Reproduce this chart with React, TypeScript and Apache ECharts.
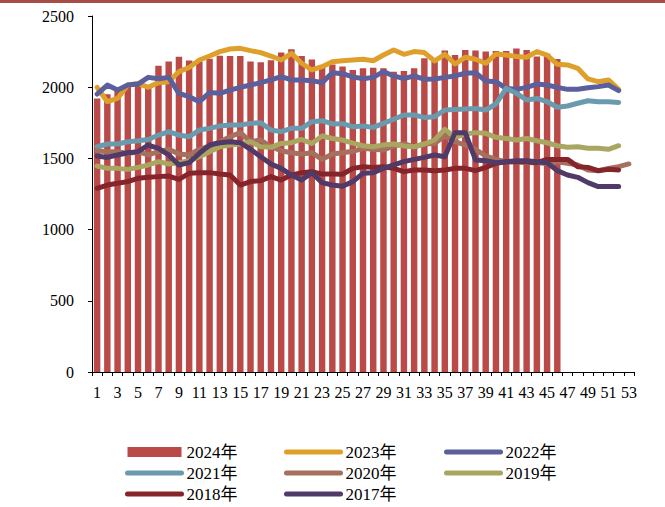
import React, { useEffect, useRef } from "react";
import * as echarts from "echarts";

const weeks: string[] = Array.from({ length: 53 }, (_, i) => String(i + 1));

const y2024 = [1920, 1950, 2000, 2010, 2027, 2010, 2151, 2181, 2214, 2188, 2180, 2200, 2220, 2219, 2219, 2181, 2176, 2190, 2243, 2266, 2219, 2195, 2156, 2160, 2145, 2121, 2133, 2137, 2133, 2109, 2114, 2133, 2203, 2190, 2257, 2226, 2262, 2257, 2250, 2254, 2254, 2271, 2262, 2215, 2235, 2198];
const y2023 = [1999, 1898, 1921, 2015, 2027, 1999, 2032, 2039, 2109, 2138, 2191, 2219, 2250, 2268, 2273, 2257, 2243, 2219, 2191, 2238, 2168, 2121, 2144, 2179, 2185, 2191, 2196, 2186, 2226, 2261, 2231, 2250, 2243, 2184, 2231, 2163, 2210, 2196, 2168, 2233, 2226, 2215, 2210, 2250, 2226, 2161, 2156, 2133, 2058, 2039, 2051, 1985];
const y2022 = [1952, 2015, 1980, 2015, 2022, 2069, 2060, 2069, 1957, 1933, 1898, 1962, 1957, 1980, 1999, 2015, 2032, 2051, 2074, 2051, 2051, 2046, 2032, 2102, 2095, 2072, 2060, 2069, 2109, 2079, 2060, 2079, 2055, 2058, 2069, 2079, 2098, 2102, 2044, 2039, 1992, 1985, 1999, 2022, 2015, 1999, 1985, 1985, 1996, 2004, 2015, 1976];
const y2021 = [1582, 1601, 1601, 1617, 1624, 1633, 1664, 1688, 1664, 1652, 1699, 1711, 1728, 1735, 1735, 1746, 1751, 1699, 1688, 1711, 1711, 1758, 1765, 1742, 1744, 1723, 1728, 1718, 1746, 1775, 1805, 1805, 1788, 1793, 1840, 1844, 1847, 1851, 1840, 1882, 1992, 1957, 1910, 1921, 1898, 1859, 1868, 1887, 1905, 1898, 1898, 1893];
const y2020 = [1554, 1547, 1547, 1535, 1547, 1524, 1547, 1564, 1531, 1524, 1564, 1587, 1617, 1652, 1681, 1617, 1629, 1582, 1554, 1540, 1531, 1540, 1493, 1531, 1540, 1550, 1571, 1564, 1559, 1587, 1601, 1582, 1601, 1605, 1657, 1617, 1594, 1564, 1517, 1493, 1477, 1477, 1470, 1470, 1465, 1477, 1465, 1454, 1419, 1414, 1430, 1442, 1461];
const y2019 = [1447, 1430, 1430, 1423, 1437, 1454, 1477, 1461, 1470, 1484, 1512, 1547, 1582, 1594, 1601, 1617, 1582, 1578, 1605, 1610, 1633, 1605, 1657, 1640, 1629, 1607, 1589, 1582, 1594, 1601, 1587, 1582, 1601, 1629, 1704, 1648, 1671, 1681, 1676, 1648, 1640, 1629, 1640, 1624, 1610, 1589, 1578, 1582, 1571, 1571, 1564, 1589];
const y2018 = [1290, 1313, 1325, 1337, 1360, 1367, 1372, 1376, 1353, 1395, 1400, 1400, 1390, 1383, 1313, 1337, 1344, 1372, 1348, 1383, 1400, 1407, 1390, 1390, 1389, 1430, 1442, 1437, 1442, 1430, 1407, 1419, 1419, 1414, 1419, 1430, 1430, 1414, 1437, 1465, 1477, 1477, 1477, 1470, 1493, 1493, 1493, 1442, 1437, 1414, 1423, 1419];
const y2017 = [1517, 1507, 1524, 1540, 1547, 1594, 1571, 1524, 1454, 1470, 1535, 1594, 1610, 1617, 1610, 1564, 1512, 1461, 1430, 1383, 1348, 1400, 1330, 1313, 1304, 1337, 1395, 1400, 1430, 1454, 1477, 1493, 1507, 1524, 1512, 1681, 1681, 1489, 1484, 1470, 1477, 1484, 1484, 1477, 1470, 1414, 1383, 1367, 1330, 1302, 1302, 1302];

const lineSeriesDefs = [
  { name: "2023年", data: y2023, color: "#DE9F2B" },
  { name: "2022年", data: y2022, color: "#5B5F9B" },
  { name: "2021年", data: y2021, color: "#6A9AAE" },
  { name: "2020年", data: y2020, color: "#A5705E" },
  { name: "2019年", data: y2019, color: "#A9A661" },
  { name: "2018年", data: y2018, color: "#85252B" },
  { name: "2017年", data: y2017, color: "#4F3A68" },
];

const FONT = '"Liberation Serif", "Times New Roman", "Noto Sans CJK SC", serif';

export default function App() {
  const ref = useRef<HTMLDivElement>(null);
  useEffect(() => {
    if (!ref.current) return;
    const chart = echarts.init(ref.current, undefined, { renderer: "svg" });
    const legendBase = {
      orient: "vertical" as const,
      top: 443,
      height: 64,
      padding: 0,
      itemWidth: 54,
      itemHeight: 10,
      itemGap: 3,
      selectedMode: false,
      itemStyle: { opacity: 0 },
      lineStyle: { width: 5, cap: "round" },
      textStyle: { fontFamily: FONT, fontSize: 17, color: "#000", lineHeight: 18 },
    };
    chart.setOption({
      animation: false,
      backgroundColor: "#fff",
      graphic: [
        { type: "rect", left: 0, top: 0, shape: { width: 665, height: 3 }, style: { fill: "#A84C48" } },
      ],
      legend: [
        {
          ...legendBase,
          left: 125,
          data: [{ name: "2024年", icon: "rect", itemStyle: { opacity: 1 } }, "2021年", "2018年"],
        },
        { ...legendBase, left: 284, data: ["2023年", "2020年", "2017年"] },
        { ...legendBase, left: 444, data: ["2022年", "2019年"] },
      ],
      grid: { left: 92, right: 31, top: 16, bottom: 135, containLabel: false },
      xAxis: {
        type: "category",
        data: weeks,
        boundaryGap: true,
        axisLine: { lineStyle: { color: "#000", width: 1 } },
        axisTick: { show: true, interval: 0, length: 4, lineStyle: { color: "#000" } },
        axisLabel: { interval: 1, fontFamily: FONT, fontSize: 16, color: "#000", margin: 12 },
        splitLine: { show: false },
      },
      yAxis: {
        type: "value",
        min: 0,
        max: 2500,
        interval: 500,
        axisLine: { show: true, lineStyle: { color: "#000", width: 1 } },
        axisTick: { show: true, length: 4, lineStyle: { color: "#000" } },
        axisLabel: {
          fontFamily: FONT,
          fontSize: 16,
          color: "#000",
          margin: 18,
          formatter: (v: number) => String(v),
        },
        splitLine: { show: false },
      },
      series: [
        {
          name: "2024年",
          type: "bar",
          data: y2024,
          barWidth: "63%",
          itemStyle: { color: "#B94A48" },
        },
        ...lineSeriesDefs.map((s) => ({
          name: s.name,
          type: "line",
          data: s.data,
          symbol: "none",
          showSymbol: false,
          smooth: false,
          color: s.color,
          lineStyle: { width: 5, color: s.color, cap: "round", join: "round" },
        })),
      ],
    });
    return () => chart.dispose();
  }, []);
  return (
    <div
      ref={ref}
      style={{ position: "fixed", left: 0, top: 0, width: 665, height: 507 }}
    />
  );
}
